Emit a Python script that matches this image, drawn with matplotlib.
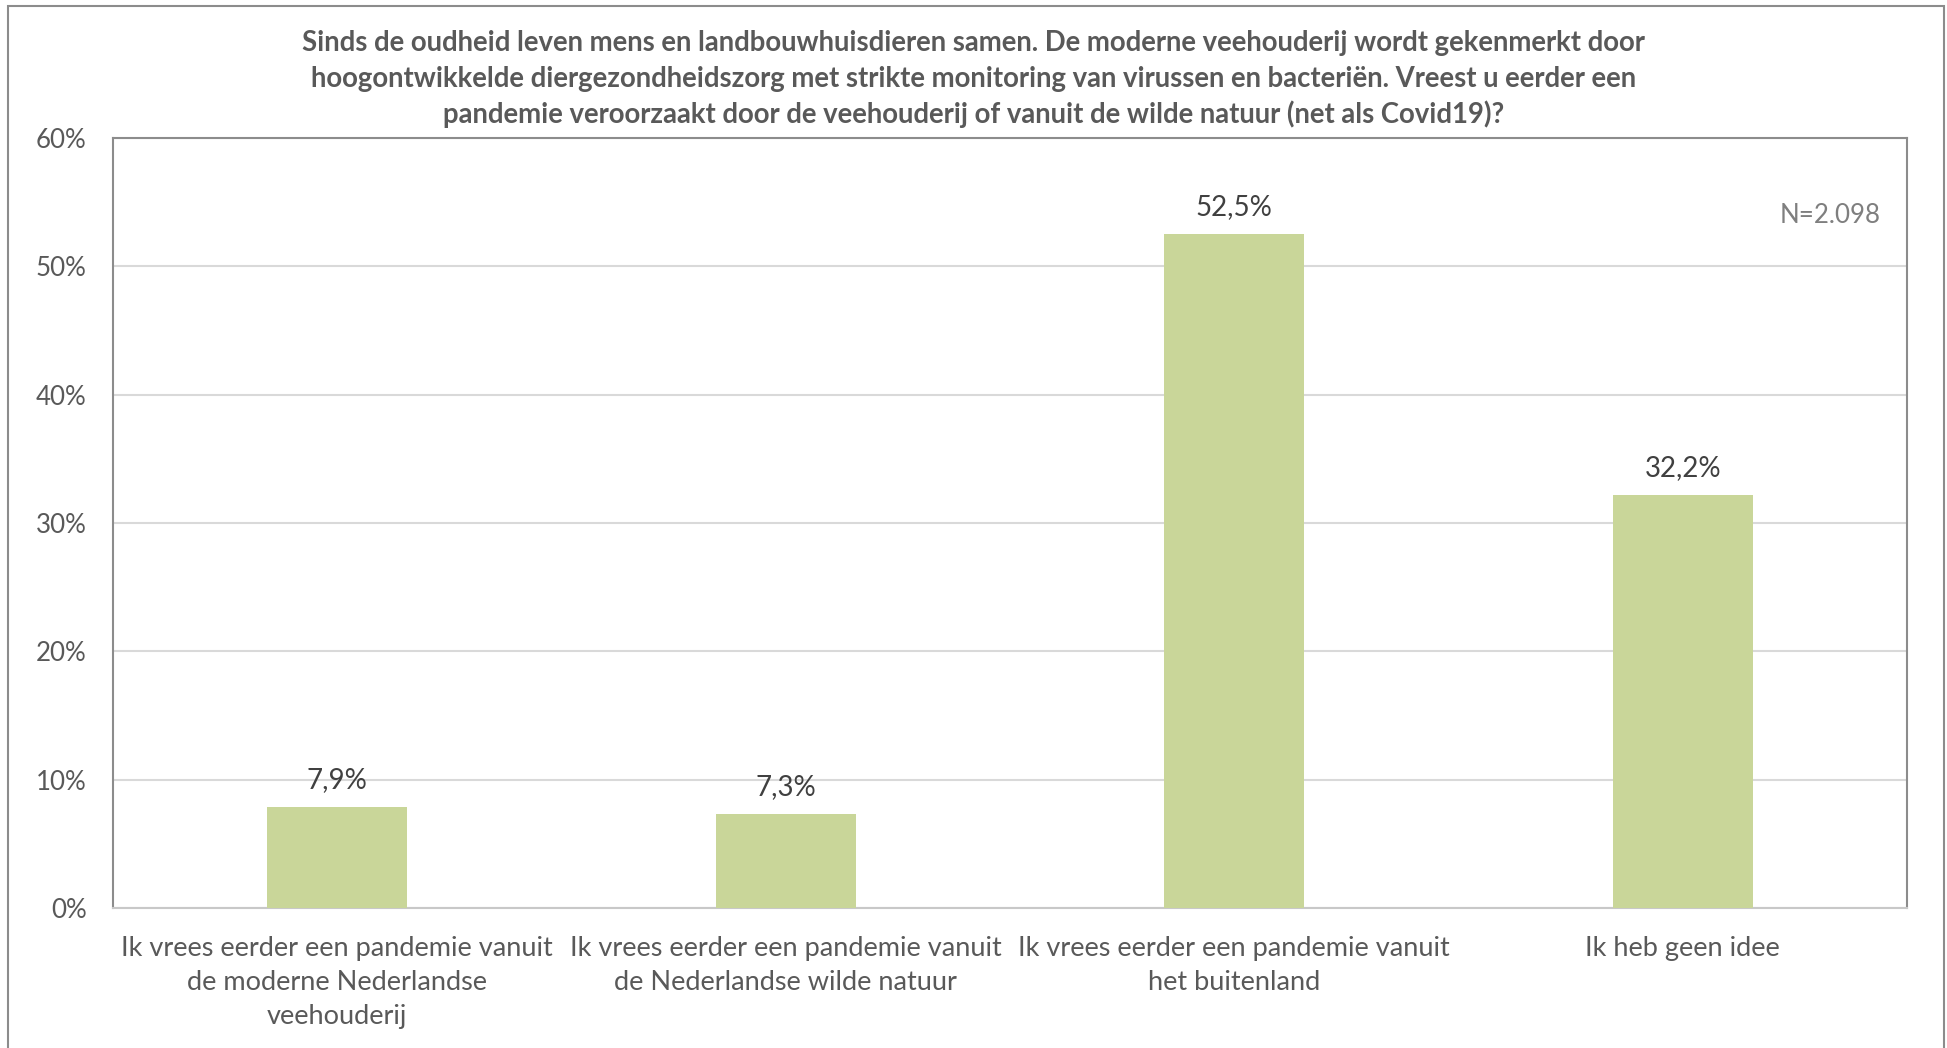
import matplotlib
matplotlib.use("Agg")
import matplotlib.pyplot as plt
from matplotlib.patches import Rectangle
from matplotlib.ticker import PercentFormatter

# Survey answers and their shares (percent)
categories = [
    "Ik vrees eerder een pandemie vanuit\nde moderne Nederlandse\nveehouderij",
    "Ik vrees eerder een pandemie vanuit\nde Nederlandse wilde natuur",
    "Ik vrees eerder een pandemie vanuit\nhet buitenland",
    "Ik heb geen idee",
]
values = [7.9, 7.3, 52.5, 32.2]
value_labels = ["7,9%", "7,3%", "52,5%", "32,2%"]
y_ticks = [0, 10, 20, 30, 40, 50, 60]

title_lines = [
    "Sinds de oudheid leven mens en landbouwhuisdieren samen. De moderne veehouderij wordt gekenmerkt door",
    "hoogontwikkelde diergezondheidszorg met strikte monitoring van virussen en bacteriën. Vreest u eerder een",
    "pandemie veroorzaakt door de veehouderij of vanuit de wilde natuur (net als Covid19)?",
]
sample_note = "N=2.098"

plt.rcParams['font.family'] = ['Lato', 'DejaVu Sans']

W, H = 1947, 1048
fig = plt.figure(figsize=(W / 100, H / 100), dpi=100)
ax = fig.add_axes([113 / W, 1 - 908 / H, (1907 - 113) / W, (908 - 138) / H])

# outer chart border
fig.patches.append(Rectangle((8 / W, -0.02), (1944 - 8) / W, 1.02 - 6 / H,
                             transform=fig.transFigure, fill=False,
                             edgecolor="#8c8c8c", linewidth=1.5))

x = range(len(categories))
bars = ax.bar(x, values, width=0.313, color="#c9d699", zorder=3)

ax.set_xlim(-0.5, len(categories) - 0.5)
ax.set_ylim(0, 60)
ax.set_yticks(y_ticks)
ax.yaxis.set_major_formatter(PercentFormatter(decimals=0))
ax.set_xticks(list(x))
ax.set_xticklabels(categories, fontsize=19.5, color="#595959", linespacing=1.45)
ax.tick_params(axis="y", length=0, pad=19, labelsize=18.6, labelcolor="#595959")
ax.tick_params(axis="x", length=0, pad=20)

ax.grid(axis="y", color="#d9d9d9", linewidth=1.5, zorder=0)
for side in ["left", "top", "right"]:
    ax.spines[side].set_color("#8c8c8c")
    ax.spines[side].set_linewidth(1.5)
ax.spines["bottom"].set_color("#c8c8c8")
ax.spines["bottom"].set_linewidth(1.5)

for b, lab in zip(bars, value_labels):
    ax.annotate(lab, (b.get_x() + b.get_width() / 2, b.get_height()),
                xytext=(0, 10), textcoords="offset points",
                ha="center", va="bottom", fontsize=20, color="#404040")

ax.text(0.9855, 0.899, sample_note, transform=ax.transAxes, ha="right",
        va="center", fontsize=18.6, color="#7f7f7f")

for i, line in enumerate(title_lines):
    fig.text(0.5, 1 - (43.5 + i * 35.5) / H, line, ha="center", va="center",
             fontsize=19.8, fontweight="bold", color="#595959")

fig.savefig("out.png", dpi=100)
